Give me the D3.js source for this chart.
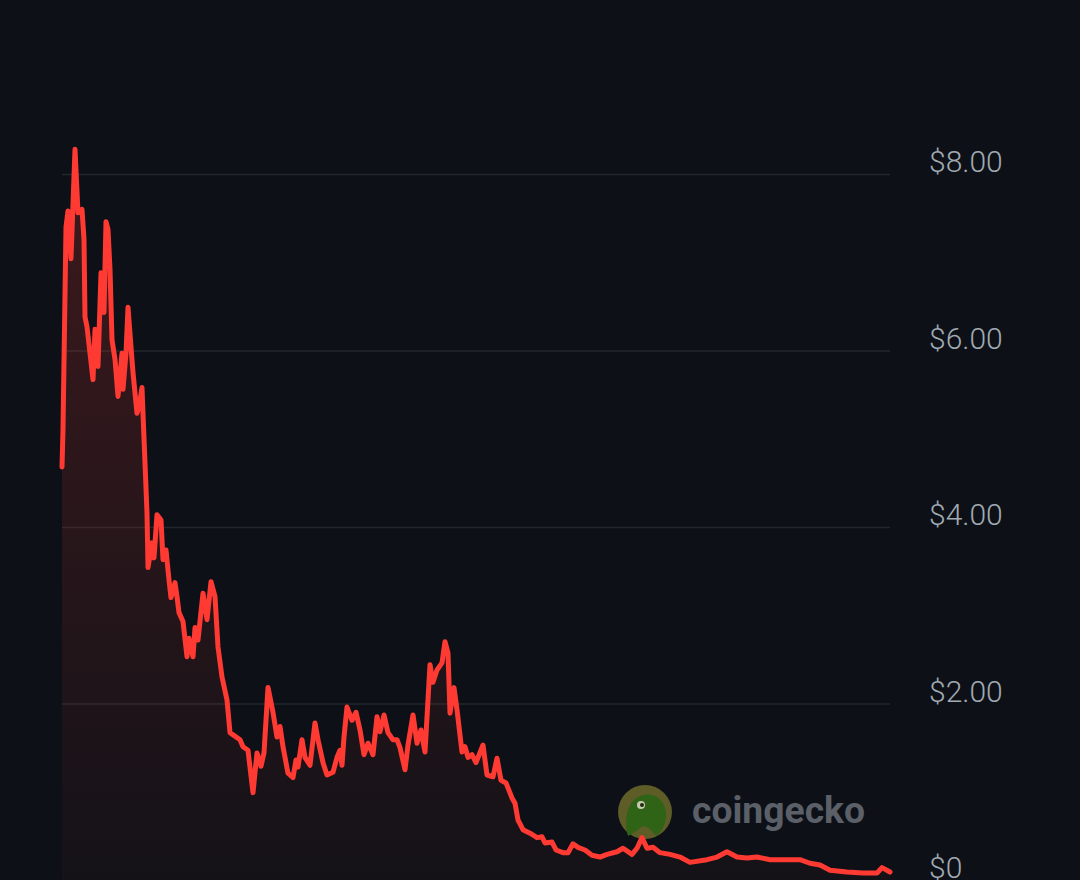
<!DOCTYPE html>
<html>
<head>
<meta charset="utf-8">
<script src="https://cdn.jsdelivr.net/npm/d3@7"></script>
<style>
  html, body { margin: 0; padding: 0; background: #0d1117; }
  svg { display: block; }
</style>
</head>
<body>
<svg id="chart" width="1080" height="880"></svg>
<script>
// price history, day offset from first point
const days = [0, 1, 4, 6, 9, 13, 16, 20, 22, 23, 25, 31, 33, 36, 39, 42, 44, 46, 48, 50,
  53, 56, 60, 61, 64, 66, 69, 71, 75, 77, 80, 81, 85, 86, 90, 92, 95, 99, 101, 104,
  107, 109, 113, 115, 117, 121, 125, 127, 131, 133, 136, 141, 145, 149, 153, 156, 160, 165, 168, 178,
  181, 186, 191, 195, 199, 202, 206, 211, 215, 218, 221, 226, 231, 234, 236, 240, 243, 248, 253, 256,
  261, 265, 271, 275, 278, 280, 282, 285, 290, 294, 298, 302, 306, 311, 315, 318, 322, 326, 331, 335,
  338, 343, 346, 351, 355, 359, 363, 368, 371, 375, 380, 383, 386, 388, 392, 395, 400, 403, 406, 410,
  414, 421, 425, 431, 435, 439, 444, 450, 453, 456, 461, 468, 475, 480, 483, 490, 494, 501, 506, 511,
  516, 523, 530, 538, 545, 555, 561, 570, 575, 580, 585, 591, 598, 608, 618, 628, 645, 655, 665, 675,
  685, 695, 708, 721, 738, 748, 758, 768, 785, 801, 815, 820, 828]
const prices = [4.68, 5.10, 7.40, 7.58, 7.04, 8.28, 7.56, 7.60, 7.26, 6.38, 6.27, 5.67, 6.24, 5.82, 6.88, 6.43, 7.46, 7.37, 6.92, 6.12,
  5.90, 5.48, 5.97, 5.56, 5.97, 6.49, 6.04, 5.75, 5.29, 5.36, 5.58, 5.29, 4.16, 3.54, 3.82, 3.65, 4.14, 4.08, 3.63, 3.74,
  3.40, 3.20, 3.37, 3.21, 3.03, 2.93, 2.53, 2.74, 2.53, 2.86, 2.72, 3.25, 2.95, 3.38, 3.21, 2.64, 2.30, 2.04, 1.67, 1.59,
  1.51, 1.47, 0.99, 1.44, 1.29, 1.44, 2.18, 1.90, 1.62, 1.74, 1.51, 1.21, 1.16, 1.36, 1.28, 1.59, 1.39, 1.30, 1.78, 1.59,
  1.33, 1.19, 1.22, 1.39, 1.47, 1.30, 1.62, 1.96, 1.81, 1.90, 1.70, 1.42, 1.55, 1.42, 1.85, 1.68, 1.87, 1.67, 1.59, 1.59,
  1.50, 1.25, 1.53, 1.87, 1.55, 1.70, 1.45, 2.44, 2.24, 2.38, 2.46, 2.70, 2.57, 1.89, 2.18, 1.93, 1.45, 1.51, 1.39, 1.42,
  1.33, 1.53, 1.19, 1.17, 1.38, 1.13, 1.10, 0.93, 0.87, 0.68, 0.57, 0.53, 0.48, 0.49, 0.42, 0.43, 0.34, 0.31, 0.31, 0.41,
  0.37, 0.34, 0.28, 0.26, 0.29, 0.32, 0.36, 0.29, 0.36, 0.48, 0.36, 0.37, 0.31, 0.29, 0.26, 0.20, 0.23, 0.26, 0.32, 0.26,
  0.25, 0.26, 0.23, 0.23, 0.23, 0.19, 0.17, 0.11, 0.09, 0.08, 0.08, 0.14, 0.09]
const priceTicks = [0, 2, 4, 6, 8]

const data = days.map((d, i) => ({day: d, price: prices[i]}))

const svg = d3.select('#chart')
const plotLeft = 62, plotRight = 890, plotTop = 174, plotBottom = 880

const x = d3.scaleLinear().domain([0, d3.max(days)]).range([plotLeft, plotRight])
const y = d3.scaleLinear().domain([0, 8]).range([plotBottom, plotTop])

svg.append('rect').attr('width', 1080).attr('height', 880).attr('fill', '#0d1117')

// area gradient
const defs = svg.append('defs')
const grad = defs.append('linearGradient')
  .attr('id', 'areaFill')
  .attr('gradientUnits', 'userSpaceOnUse')
  .attr('x1', 0).attr('x2', 0)
  .attr('y1', y(8.3)).attr('y2', y(0))
grad.append('stop').attr('offset', '0%').attr('stop-color', '#ff3a33').attr('stop-opacity', 0.2)
grad.append('stop').attr('offset', '100%').attr('stop-color', '#ff3a33').attr('stop-opacity', 0.03)

// gridlines
const grid = svg.append('g')
  .attr('transform', `translate(${plotLeft},0)`)
  .call(d3.axisRight(y).tickValues(priceTicks.filter(v => v > 0)).tickSize(plotRight - plotLeft).tickFormat(''))
grid.select('.domain').remove()
grid.selectAll('line').attr('stroke', '#22272e').attr('stroke-width', 1.5)

// price labels on the right
const fmt = v => v === 0 ? '$0' : '$' + v.toFixed(2)
const labels = svg.append('g')
  .attr('transform', 'translate(929,0)')
  .call(d3.axisRight(y).tickValues(priceTicks).tickSize(0).tickPadding(0).tickFormat(fmt))
labels.select('.domain').remove()
labels.selectAll('text')
  .attr('dy', '-0.07em')
  .attr('fill', '#a1aab3')
  .style('font-family', 'Roboto, "Noto Sans", sans-serif')
  .style('font-size', '30px')
  .style('font-weight', 300)

// watermark
const mark = svg.append('g').attr('class', 'watermark')
mark.append('circle').attr('cx', 645).attr('cy', 812).attr('r', 27).attr('fill', '#5e5d28')
mark.append('path')
  .attr('d', 'M628,836 C624,822 626,802 640,796 C652,791 664,798 666,812 C667,822 662,832 656,836 C650,828 644,822 638,830 Z')
  .attr('fill', '#2f6316')
mark.append('circle').attr('cx', 641).attr('cy', 805).attr('r', 4).attr('fill', '#c9c9b0')
mark.append('circle').attr('cx', 642).attr('cy', 805).attr('r', 2).attr('fill', '#1d2a12')
mark.append('text')
  .attr('x', 692).attr('y', 823)
  .attr('textLength', 173).attr('lengthAdjust', 'spacingAndGlyphs')
  .attr('fill', '#5b6068')
  .style('font-family', 'Roboto, "Noto Sans", sans-serif')
  .style('font-size', '37px')
  .style('font-weight', 700)
  .text('coingecko')

// area + line
const area = d3.area().x(d => x(d.day)).y0(y(0)).y1(d => y(d.price)).curve(d3.curveLinear)
const line = d3.line().x(d => x(d.day)).y(d => y(d.price)).curve(d3.curveLinear)

svg.append('path').datum(data).attr('d', area).attr('fill', 'url(#areaFill)')
svg.append('path').datum(data).attr('d', line)
  .attr('fill', 'none')
  .attr('stroke', '#ff3a33')
  .attr('stroke-width', 5)
  .attr('stroke-linejoin', 'round')
  .attr('stroke-linecap', 'round')
</script>
</body>
</html>
